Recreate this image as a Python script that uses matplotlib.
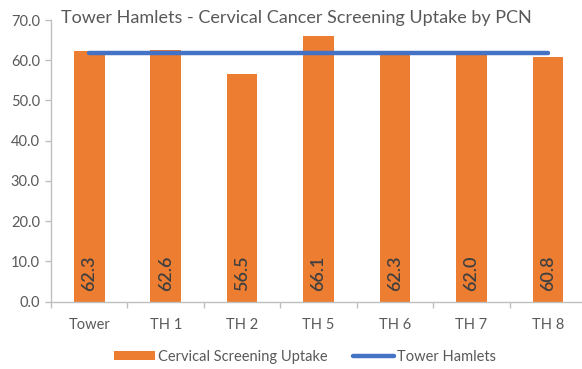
import matplotlib
matplotlib.use("Agg")
import matplotlib.pyplot as plt
from matplotlib.ticker import FixedLocator, MultipleLocator, FormatStrFormatter

categories = ["Tower", "TH 1", "TH 2", "TH 5", "TH 6", "TH 7", "TH 8"]
uptake = [62.3, 62.6, 56.5, 66.1, 62.3, 62.0, 60.8]
borough_average = [61.7] * len(categories)

plt.rcParams["font.family"] = ["Lato", "DejaVu Sans"]

fig = plt.figure(figsize=(5.82, 3.69), dpi=100)
W, H = 582, 369
ax = fig.add_axes([51 / W, (H - 301.7) / H, (586 - 51) / W, (301.7 - 20) / H])

x = list(range(len(categories)))
bar_handle = ax.bar(x, uptake, width=0.40, color="#ED7D31", zorder=2,
                    label="Cervical Screening Uptake")
line_handle, = ax.plot(x, borough_average, color="#4472C4", linewidth=3.2, zorder=3,
                       solid_capstyle="round", label="Tower Hamlets")

for xi, v in zip(x, uptake):
    ax.text(xi, 2.6, f"{v:.1f}", rotation=90, ha="center", va="bottom",
            fontsize=13, fontweight="semibold", color="#404040", zorder=4)

ax.set_xlim(-0.5, len(categories) - 0.5)
ax.set_ylim(0, 70)
ax.yaxis.set_major_locator(MultipleLocator(10))
ax.yaxis.set_major_formatter(FormatStrFormatter("%.1f"))
ax.set_xticks(x)
ax.set_xticklabels(categories)
ax.xaxis.set_minor_locator(FixedLocator([i - 0.5 for i in range(len(categories) + 1)]))
ax.tick_params(axis="x", which="major", length=0, pad=12, labelsize=10.5, labelcolor="#595959")
ax.tick_params(axis="x", which="minor", length=4, color="#bfbfbf", width=1)
ax.tick_params(axis="y", length=4, color="#bfbfbf", width=1, labelsize=10.5, labelcolor="#595959", pad=4)

for s in ["top", "right"]:
    ax.spines[s].set_visible(False)
for s in ["left", "bottom"]:
    ax.spines[s].set_color("#bfbfbf")
    ax.spines[s].set_linewidth(1)

fig.text(296 / W, 1 - 18 / H, "Tower Hamlets - Cervical Cancer Screening Uptake by PCN",
         ha="center", va="center", fontsize=13, color="#595959")

fig.legend([bar_handle, line_handle], ["Cervical Screening Uptake", "Tower Hamlets"],
           loc="center", bbox_to_anchor=(305 / W, 1 - 357 / H), ncol=2, frameon=False,
           fontsize=10.5, labelcolor="#595959", handlelength=2.8, handleheight=0.6,
           columnspacing=1.8, handletextpad=0.2)

fig.savefig("out.png", dpi=100)
